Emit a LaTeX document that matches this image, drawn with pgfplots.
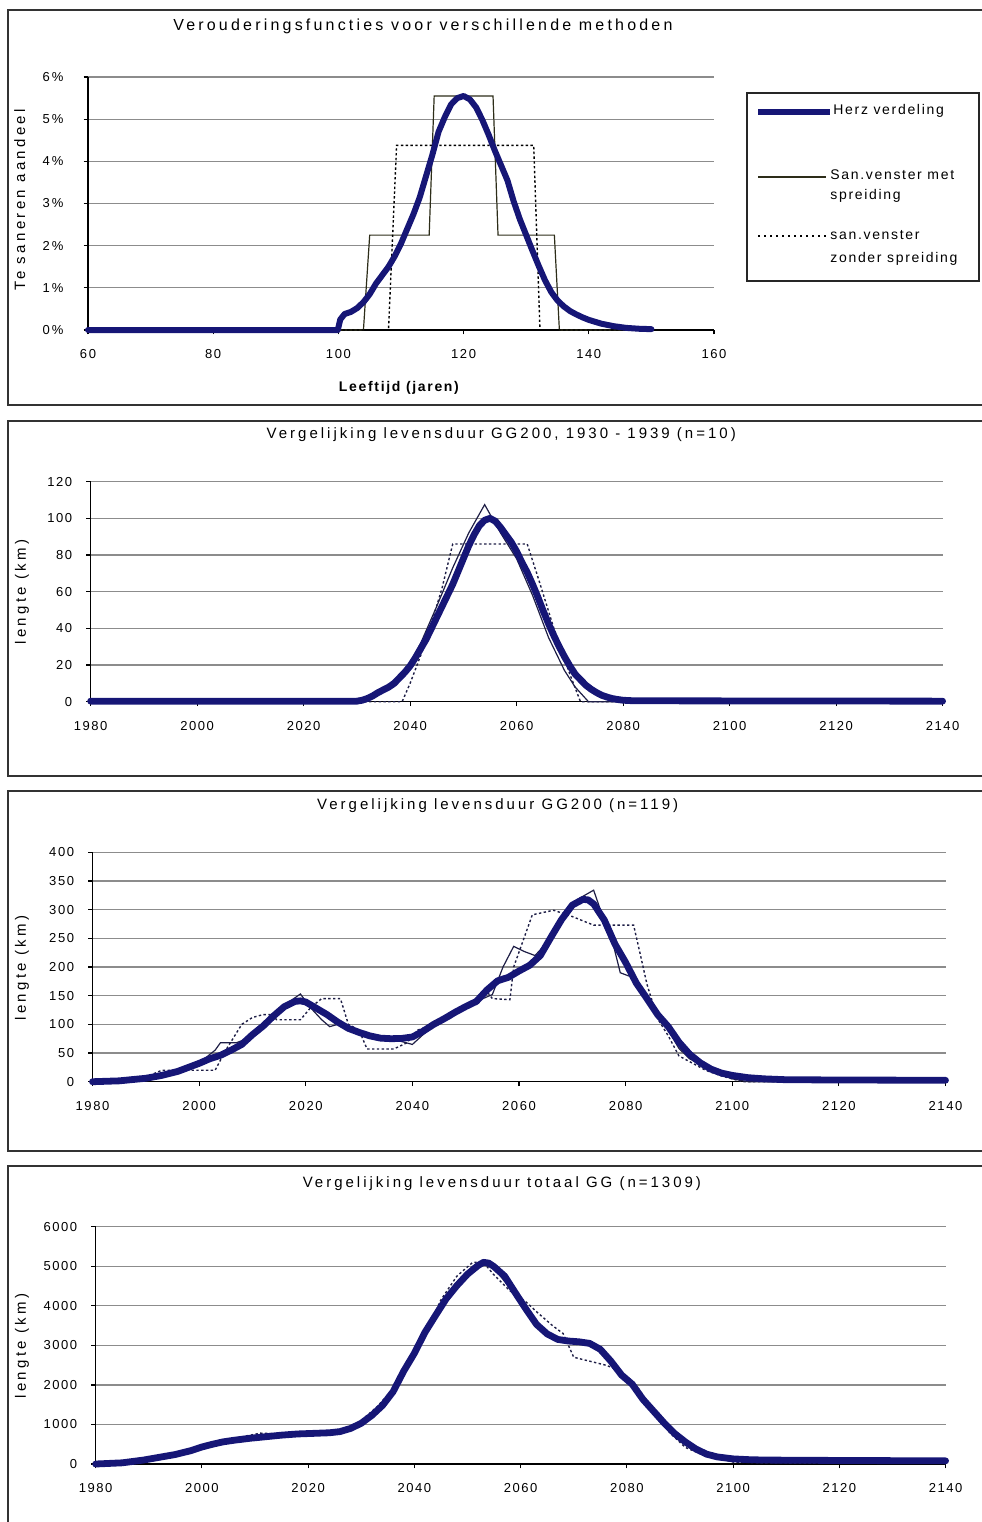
\documentclass[border=0pt]{standalone}
\usepackage{fontspec}
\setmainfont{Liberation Sans}[LetterSpace=12]
\usepackage{pgfplots}
\pgfplotsset{compat=1.18}

\definecolor{herz}{RGB}{22,22,118}
\definecolor{stepc}{RGB}{45,45,25}
\definecolor{thinb}{RGB}{30,30,70}

\newcommand{\tickfont}{\fontsize{6.5}{8}\selectfont}
\newcommand{\titlefont}{\fontsize{7.5}{9}\selectfont\addfontfeature{LetterSpace=20}}
\newcommand{\labfont}{\fontsize{7.5}{9}\selectfont\addfontfeature{LetterSpace=22}}

\pgfplotsset{
  every axis title shift=0pt,
  panel/.style={
    scale only axis, anchor=south west, clip=false,
    axis x line*=bottom, axis y line*=left,
    axis line style={black, line width=0.6pt, -},
    tick align=outside, major tick length=2.2pt,
    tick style={black, line width=0.6pt},
    ymajorgrids, grid style={black!45, line width=0.6pt},
    tick label style={font=\tickfont},
    xticklabel style={yshift=-4pt},
    yticklabel style={xshift=-3.5pt},
    /pgf/number format/assume math mode=true,
    /pgf/number format/1000 sep={},
    scaled y ticks=false,
    title style={font=\titlefont, anchor=center},
    ylabel style={font=\labfont, anchor=center},
  },
  yrs/.style={xmin=1980, xmax=2140, xtick={1980,2000,...,2140}},
  herzline/.style={herz, line width=3.4pt, line join=round, line cap=round},
  metline/.style={thinb, line width=0.6pt},
  zonline/.style={thinb, line width=0.7pt, dash pattern=on 1.2pt off 1.2pt},
}

\begin{document}
\begin{tikzpicture}

% ---- 1: verouderingsfuncties
\begin{axis}[panel,
  at={(44pt,-165pt)}, width=313pt, height=126.5pt,
  xmin=60, xmax=160, xtick={60,80,...,160},
  ymin=0, ymax=6, ytick={0,...,6},
  yticklabels={0\,\%,1\,\%,2\,\%,3\,\%,4\,\%,5\,\%,6\,\%},
  yticklabel style={xshift=-3pt},
  title={Verouderingsfuncties voor verschillende methoden},
  title style={at={(0.535,1)}, yshift=25.5pt, font=\fontsize{8}{9}\selectfont\addfontfeature{LetterSpace=20}},
  ylabel={Te saneren aandeel},
  ylabel style={at={(axis description cs:-0.109,0.514)}},
  xlabel={\textbf{Leeftijd (jaren)}},
  xlabel style={at={(axis description cs:0.498,-0.229)}, anchor=center, font=\fontsize{7}{8}\selectfont},
]
\addplot[stepc, line width=0.6pt] coordinates {
  (60,0) (104,0) (105,2.25) (114.5,2.25) (115.3,5.55) (124.7,5.55)
  (125.5,2.25) (134.5,2.25) (135.3,0) (150,0)
};
\addplot[black, line width=0.7pt, dash pattern=on 1.2pt off 1.2pt] coordinates {
  (60,0) (108,0) (109.3,4.38) (131.2,4.38) (132.2,0) (150,0)
};
\addplot[herz, line width=3pt, line join=round, line cap=round] coordinates {
  (60,0) (99.9,0) (100.3,0.25) (101,0.38) (102,0.43) (103,0.52) (104,0.66)
  (105,0.85) (106,1.1) (107,1.3) (108,1.5) (109,1.75) (110,2.05) (111,2.4)
  (112,2.75) (113,3.15) (114,3.65) (115,4.15) (116,4.7) (117,5.05) (118,5.35)
  (119,5.5) (120,5.55) (121,5.47) (122,5.28) (123,4.98) (124,4.63) (125,4.25)
  (126,3.9) (127,3.55) (128,3.05) (129,2.62) (130,2.25) (131,1.88) (132,1.52)
  (133,1.18) (134,0.9) (135,0.7) (136,0.56) (137,0.45) (138,0.37) (139,0.3)
  (140,0.24) (142,0.15) (144,0.09) (146,0.05) (148,0.03) (150,0.02)
};
\end{axis}

% ---- 2: GG200 1930-1939
\begin{axis}[panel, yrs,
  at={(45.3pt,-350.85pt)}, width=426pt, height=110pt,
  ymin=0, ymax=120, ytick={0,20,...,120},
  title={Vergelijking levensduur GG200, 1930 - 1939 (n=10)},
  title style={at={(0.482,1)}, yshift=23.3pt},
  ylabel={lengte (km)},
  ylabel style={at={(axis description cs:-0.0805,0.4986)}},
]
\addplot[metline] coordinates {
  (1980,0) (2030,0) (2033,2) (2036,7) (2039,16) (2042,32) (2045,52) (2048,73)
  (2051,92) (2054,107.5) (2057,92) (2060,78) (2063,58) (2066,35) (2069,17)
  (2071,8) (2073.5,0) (2140,0)
};
\addplot[zonline] coordinates {
  (1980,0) (2038.5,0) (2040,10) (2043,33) (2046,62) (2048,86) (2062,86)
  (2064,68) (2067,40) (2070,15) (2072,0) (2140,0)
};
\addplot[herzline] coordinates {
  (1980,0.3) (2030,0.3) (2031,0.8) (2032,1.8) (2033,3.2) (2034,5) (2035,6.5)
  (2036,8) (2037,10) (2038,13) (2039,16) (2040,19.5) (2041,24) (2042,29)
  (2043,34) (2044,40) (2045,46) (2046,52) (2047,58) (2048,64) (2049,71)
  (2050,78) (2051,85) (2052,91) (2053,96) (2054,99) (2055,100) (2056,98.5)
  (2057,95) (2058,91) (2059,87) (2060,82) (2061,76) (2062,70.5) (2063,64)
  (2064,57) (2065,49.5) (2066,42.5) (2067,36) (2068,30) (2069,24.5)
  (2070,19.5) (2071,15) (2072,12) (2073,9) (2074,6.8) (2075,5) (2076,3.5)
  (2077,2.5) (2078,1.7) (2079,1.2) (2080,0.8) (2082,0.5) (2140,0.3)
};
\end{axis}

% ---- 3: GG200 n=119
\begin{axis}[panel, yrs,
  at={(46.25pt,-540.85pt)}, width=426.5pt, height=114.7pt,
  ymin=0, ymax=400, ytick={0,50,...,400},
  title={Vergelijking levensduur GG200 (n=119)},
  title style={at={(0.475,1)}, yshift=23.2pt},
  ylabel={lengte (km)},
  ylabel style={at={(axis description cs:-0.0826,0.4956)}},
]
\addplot[metline] coordinates {
  (1980,0) (1988,3) (1992,10) (1996,20) (1999,30) (2001,40) (2003,55)
  (2004,68) (2007,68) (2009,75) (2011,92) (2013,110) (2015,125) (2017,140)
  (2019,153) (2021,128) (2023,108) (2024.5,96) (2026,100) (2028,93)
  (2030,88) (2032,82) (2035,76) (2038,70) (2040,65) (2042,82) (2044,98)
  (2047,112) (2050,128) (2052,140) (2054,148) (2055,152) (2057,200)
  (2059,236) (2061,227) (2063,220) (2065,240) (2067,275) (2069,300)
  (2071,318) (2074,334) (2076,280) (2077,264) (2079,190) (2081,183)
  (2082,176) (2084,145) (2086,115) (2088,90) (2090,58) (2092,40) (2094,30)
  (2096,20) (2098,12) (2100,5) (2103,0) (2140,0)
};
\addplot[zonline] coordinates {
  (1980,0) (1988,3) (1991,12) (1993,20) (2003,20) (2005,55) (2008,100)
  (2010,112) (2012,117) (2014,117) (2014.5,108) (2019,108) (2021,130)
  (2023,145) (2026.5,145) (2028,100) (2030,90) (2031.5,57) (2036.5,57)
  (2039,68) (2041,90) (2044,100) (2047,110) (2050,130) (2053,150) (2054,157)
  (2055,145) (2058.3,143) (2059,200) (2062.5,291) (2066.5,299) (2070,288)
  (2074,273) (2081.5,273) (2082.7,224) (2084,170) (2086,110) (2088,80)
  (2090,45) (2092,35) (2095,20) (2098,10) (2102,0) (2140,0)
};
\addplot[herzline] coordinates {
  (1980,0) (1985,1.5) (1990,6) (1993,11) (1996,18) (1998,25) (2000,32)
  (2002,40) (2004,46) (2006,55) (2008,65) (2010,82) (2012,97) (2014,115)
  (2016,131) (2018,140) (2019,141) (2020,139) (2022,128) (2024,117)
  (2026,104) (2028,93) (2030,86) (2032,80) (2034,76) (2036,75) (2038,75.5)
  (2040,78) (2042,88) (2044,100) (2046,110) (2048,121) (2050,131) (2052,140)
  (2054,160) (2056,176) (2058,182) (2060,193) (2062,203) (2064,220)
  (2066,252) (2068,283) (2070,308) (2072,318) (2073,317) (2074,310)
  (2076,282) (2078,240) (2080,208) (2082,172) (2084,145) (2086,117)
  (2088,96) (2090,69) (2092,48) (2094,33) (2096,22) (2098,15) (2100,11)
  (2103,7) (2106,5) (2110,3.5) (2120,3) (2140,2.5)
};
\end{axis}

% ---- 4: totaal GG n=1309
\begin{axis}[panel, yrs,
  at={(47.8pt,-732pt)}, width=425pt, height=118.65pt,
  ymin=0, ymax=6000, ytick={0,1000,...,6000},
  title={Vergelijking levensduur totaal GG (n=1309)},
  title style={at={(0.478,1)}, yshift=21.8pt},
  ylabel={lengte (km)},
  ylabel style={at={(axis description cs:-0.0866,0.497)}},
]
\addplot[metline] coordinates {
  (1980,0) (1990,110) (1995,260) (2000,450) (2004,560) (2008,620) (2012,700)
  (2016,740) (2020,760) (2024,800) (2027,850) (2030,1080) (2033,1400)
  (2036,1850) (2039,2600) (2042,3350) (2045,4050) (2048,4600) (2051,5000)
  (2053,5150) (2055,4950) (2058,4450) (2061,3900) (2064,3400) (2067,3150)
  (2070,3100) (2073,3050) (2076,2750) (2079,2300) (2082,1850) (2085,1300)
  (2088,850) (2091,520) (2094,300) (2097,170) (2100,110) (2104,60)
  (2110,40) (2140,30)
};
\addplot[zonline] coordinates {
  (1980,0) (1990,100) (1995,250) (2000,470) (2004,580) (2008,700)
  (2011,780) (2015,760) (2020,780) (2024,780) (2027,800) (2030,1100)
  (2033,1450) (2036,1900) (2039,2550) (2042,3300) (2045,4150) (2048,4750)
  (2051,5100) (2053,5100) (2055,4780) (2058,4380) (2061,4100) (2063,3850)
  (2066,3500) (2068,3300) (2070,2700) (2073,2600) (2076,2500) (2079,2350)
  (2082,1950) (2085,1350) (2088,800) (2091,420) (2094,250) (2097,150)
  (2100,50) (2105,30) (2115,20) (2140,20)
};
\addplot[herzline] coordinates {
  (1980,0) (1985,30) (1989,100) (1992,170) (1995,240) (1998,340) (2000,430)
  (2002,500) (2004,560) (2006,600) (2009,650) (2012,690) (2015,730)
  (2018,760) (2021,775) (2024,790) (2026,820) (2028,900) (2030,1030)
  (2032,1230) (2034,1480) (2036,1830) (2038,2350) (2040,2800) (2042,3330)
  (2044,3760) (2046,4180) (2048,4510) (2050,4800) (2052,5020) (2053,5100)
  (2054,5080) (2055,4990) (2057,4750) (2059,4330) (2061,3920) (2063,3530)
  (2065,3290) (2067,3150) (2069,3110) (2071,3090) (2073,3050) (2075,2900)
  (2077,2600) (2079,2250) (2081,2020) (2083,1640) (2085,1340) (2087,1040)
  (2089,770) (2091,560) (2093,380) (2095,250) (2097,180) (2100,130)
  (2103,110) (2106,100) (2120,90) (2140,80)
};
\end{axis}

% ---- frames and legend (pixel grid of the reference)
\begin{scope}[x=0.5pt, y=-0.5pt]
  \draw[black!80, line width=1pt] (8,10) rectangle (1010,405);
  \draw[black!80, line width=1pt] (8,420.5) rectangle (1010,776);
  \draw[black!80, line width=1pt] (8,790.5) rectangle (1010,1150.5);
  \draw[black!80, line width=1pt] (8,1166) rectangle (1010,1560);
  % legend of panel 1
  \draw[black!85, line width=0.8pt] (747,93) rectangle (979,281);
  \draw[herz, line width=3pt] (758,111.5) -- (830,111.5);
  \draw[stepc, line width=0.6pt] (758,177) -- (826,177);
  \draw[black, line width=0.7pt, dash pattern=on 1.2pt off 1.8pt] (758,236) -- (826,236);
  \begin{scope}[every node/.style={anchor=west, inner sep=0pt, font=\fontsize{7}{8}\selectfont}]
    \node at (833,111) {Herz verdeling};
    \node at (830,175) {San.venster met};
    \node at (830,196) {spreiding};
    \node at (830,235) {san.venster};
    \node at (830,259) {zonder spreiding};
  \end{scope}
  \pgfresetboundingbox
  \useasboundingbox (0,0) rectangle (981,1522);
\end{scope}

\end{tikzpicture}
\end{document}
